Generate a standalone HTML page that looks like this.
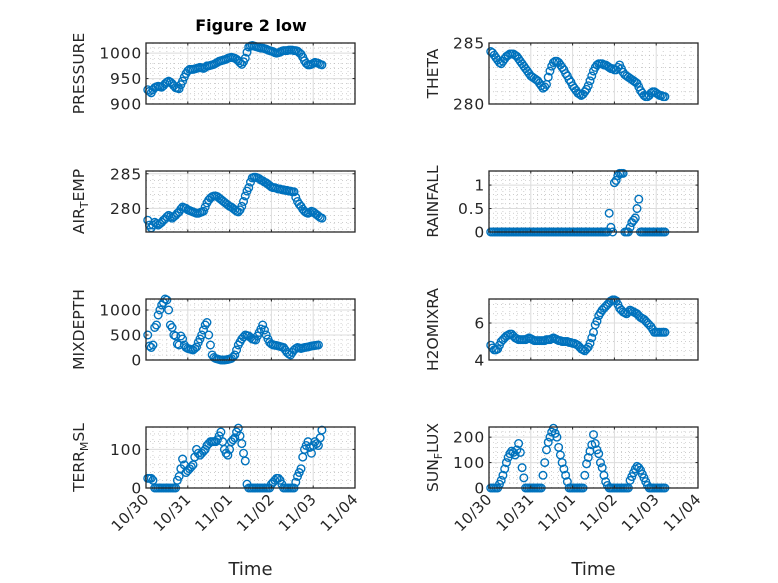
<!DOCTYPE html>
<html><head><meta charset="utf-8"><style>
html,body{margin:0;padding:0;background:#fff}
svg{display:block;font-family:"DejaVu Sans","Liberation Sans",sans-serif}
</style></head><body>
<svg id="fig" width="778" height="583" viewBox="0 0 778 583" xmlns="http://www.w3.org/2000/svg">
<rect width="778" height="583" fill="#fff"/>
<text x="251" y="31" text-anchor="middle" font-weight="bold" font-size="16" fill="#000">Figure 2 low</text>
</svg>
<script>
// hours since 10/30 00:00
const hours = [1,2,3,4,5,6,7,8,9,10,11,12,13,14,15,16,17,18,19,20,21,22,23,24,25,26,27,28,29,30,31,32,33,34,35,36,37,38,39,40,41,42,43,44,45,46,47,48,49,50,51,52,53,54,55,56,57,58,59,60,61,62,63,64,65,66,67,68,69,70,71,72,73,74,75,76,77,78,79,80,81,82,83,84,85,86,87,88,89,90,91,92,93,94,95,96,97,98,99,100,101,102];
const xTickLabels = ['10/30','10/31','11/01','11/02','11/03','11/04'];
const pressure = [928,925,922,928,932,934,935,934,933,936,940,943,945,943,940,936,932,931,930,938,945,953,960,965,968,968,968,969,970,971,972,971,970,972,975,975,976,977,978,980,982,984,985,986,987,988,990,991,992,991,990,988,985,981,978,983,990,1002,1012,1014,1015,1014,1013,1012,1011,1010,1010,1009,1008,1006,1005,1004,1003,1001,1000,1001,1002,1004,1005,1005,1005,1006,1006,1006,1005,1005,1004,1001,998,992,985,980,977,977,978,980,982,981,980,978,977];
const theta = [284.3,284.2,284.0,283.8,283.6,283.4,283.3,283.5,283.7,283.9,284.0,284.1,284.1,284.1,284.0,283.9,283.7,283.5,283.3,283.1,282.9,282.7,282.5,282.3,282.2,282.1,282.0,281.9,281.7,281.5,281.3,281.4,281.6,282.2,282.7,283.1,283.4,283.5,283.5,283.4,283.2,283.0,282.8,282.5,282.3,282.0,281.8,281.5,281.3,281.1,280.9,280.8,280.7,280.8,281.0,281.2,281.5,281.9,282.3,282.7,283.0,283.2,283.3,283.3,283.3,283.2,283.2,283.1,283.0,282.9,282.9,282.8,282.8,283.0,283.2,282.9,282.6,282.4,282.3,282.2,282.1,282.0,281.9,281.8,281.7,281.4,281.1,280.9,280.7,280.6,280.6,280.7,280.9,281.0,281.0,280.9,280.8,280.7,280.7,280.6,280.6];
const airTemp = [278.3,277.6,277.2,277.6,278.0,277.8,277.6,277.8,278.0,278.3,278.5,278.8,279.0,278.8,278.6,278.8,279.0,279.3,279.5,279.9,280.2,280.1,280.0,279.8,279.7,279.6,279.5,279.4,279.3,279.3,279.4,279.5,279.6,280.2,280.8,281.2,281.5,281.7,281.8,281.8,281.7,281.5,281.3,281.1,280.9,280.7,280.5,280.3,280.2,280.0,279.8,279.6,279.5,279.8,280.3,281.0,281.8,282.5,283.0,283.8,284.4,284.5,284.5,284.4,284.3,284.1,284.0,283.8,283.7,283.5,283.3,283.1,283.0,283.0,282.9,282.8,282.8,282.7,282.7,282.6,282.6,282.5,282.5,282.4,282.4,281.6,281.0,280.6,280.3,279.9,279.6,279.4,279.3,279.4,279.6,279.5,279.3,279.1,278.9,278.7,278.6];
const rainfall = [0,0,0,0,0,0,0,0,0,0,0,0,0,0,0,0,0,0,0,0,0,0,0,0,0,0,0,0,0,0,0,0,0,0,0,0,0,0,0,0,0,0,0,0,0,0,0,0,0,0,0,0,0,0,0,0,0,0,0,0,0,0,0,0,0,0,0,0,0.4,0.1,0,1.05,1.1,1.2,1.25,1.25,1.25,0,0,0,0.1,0.2,0.25,0.3,0.5,0.7,0,0,0,0,0,0,0,0,0,0,0,0,0,0,0];
const mixDepth = [500,280,250,300,650,700,900,1000,1100,1150,1220,1200,1000,700,650,500,480,320,300,480,420,300,250,230,220,210,200,230,260,350,420,500,600,700,750,500,300,100,50,30,20,10,0,0,0,5,10,20,30,60,100,200,300,360,420,460,500,490,480,450,420,410,400,480,550,620,700,600,500,420,350,320,300,295,290,280,270,260,250,200,150,120,100,150,200,230,250,240,230,240,250,255,260,270,280,285,290,295,300];
const h2oMix = [4.8,4.65,4.55,4.55,4.6,4.8,5.0,5.1,5.2,5.3,5.35,5.4,5.4,5.3,5.2,5.15,5.1,5.1,5.1,5.1,5.1,5.15,5.2,5.15,5.1,5.05,5.05,5.05,5.05,5.05,5.05,5.05,5.1,5.1,5.1,5.15,5.2,5.15,5.1,5.05,5.05,5.0,5.0,5.0,5.0,4.95,4.95,4.9,4.9,4.85,4.8,4.7,4.6,4.55,4.5,4.6,4.7,4.9,5.2,5.5,5.9,6.1,6.4,6.55,6.7,6.8,6.9,7.0,7.1,7.2,7.25,7.25,7.2,7.0,6.8,6.7,6.6,6.55,6.5,6.6,6.7,6.65,6.6,6.55,6.5,6.4,6.3,6.25,6.2,6.1,6.0,5.9,5.8,5.65,5.5,5.5,5.5,5.5,5.5,5.5,5.5];
const terrMsl = [25,25,25,20,0,0,0,0,0,0,0,0,0,0,0,0,0,20,30,50,75,60,40,45,50,55,60,80,100,90,85,90,95,100,110,115,120,120,120,120,125,135,145,120,100,90,85,100,120,125,130,145,155,135,115,90,70,10,0,0,0,0,0,0,0,0,0,0,0,0,0,10,15,20,25,25,20,10,0,0,0,0,0,0,0,15,30,40,50,80,100,110,120,105,90,110,120,115,110,130,150];
const sunFlux = [0,0,0,0,0,15,30,50,75,100,120,135,145,140,130,150,175,140,80,40,0,0,0,0,0,0,0,0,0,0,50,100,150,180,200,220,235,215,200,160,130,100,75,50,25,0,0,0,0,0,0,0,0,0,50,95,120,145,170,210,175,150,135,100,80,50,25,10,0,0,0,0,0,0,0,0,0,0,0,0,30,45,60,75,85,80,70,55,40,25,10,0,0,0,0,0,0,0,0,0,0];

const SVGNS='http://www.w3.org/2000/svg';
const svg=document.getElementById('fig');
function mk(tag,attrs,parent){const e=document.createElementNS(SVGNS,tag);for(const k in attrs)e.setAttribute(k,attrs[k]);(parent||svg).appendChild(e);return e;}

const panels=[
 {id:'pressure',label:[['PRESSURE']],vals:pressure,ymin:900,ymax:1020,ticks:[900,950,1000],minor:10,x:146,y:43},
 {id:'theta',label:[['THETA']],vals:theta,ymin:280,ymax:285,ticks:[280,285],minor:1,x:489,y:43},
 {id:'air-temp',label:[['AIR'],['T','sub'],['EMP']],vals:airTemp,ymin:276.6,ymax:285.4,ticks:[280,285],minor:1,x:146,y:171},
 {id:'rainfall',label:[['RAINFALL']],vals:rainfall,ymin:0,ymax:1.3,ticks:[0,0.5,1],minor:0.1,x:489,y:171},
 {id:'mixdepth',label:[['MIXDEPTH']],vals:mixDepth,ymin:0,ymax:1220,ticks:[0,500,1000],minor:100,x:146,y:299},
 {id:'h2omixra',label:[['H2OMIXRA']],vals:h2oMix,ymin:4,ymax:7.3,ticks:[4,6],minor:0.5,x:489,y:299},
 {id:'terr-msl',label:[['TERR'],['M','sub'],['SL']],vals:terrMsl,ymin:0,ymax:158,ticks:[0,100],minor:20,x:146,y:427},
 {id:'sun-flux',label:[['SUN'],['F','sub'],['LUX']],vals:sunFlux,ymin:0,ymax:240,ticks:[0,100,200],minor:20,x:489,y:427}
];
const W=209,H=61,HOURS=120;

panels.forEach((p,pi)=>{
  const g=mk('g',{});
  
  
  const xs=h=>p.x+h/HOURS*W;
  const ys=v=>p.y+H-(v-p.ymin)/(p.ymax-p.ymin)*H;
  for(let h=4;h<HOURS;h+=4){ if(h%24===0)continue;
    mk('line',{x1:xs(h),x2:xs(h),y1:p.y,y2:p.y+H,stroke:'#b0b0b0','stroke-width':0.6,'stroke-dasharray':'1 3'},g);}
  for(let v=Math.ceil(p.ymin/p.minor)*p.minor;v<p.ymax;v+=p.minor){
    if(p.ticks.some(t=>Math.abs(t-v)<1e-6))continue;
    mk('line',{x1:p.x,x2:p.x+W,y1:ys(v),y2:ys(v),stroke:'#b0b0b0','stroke-width':0.6,'stroke-dasharray':'1 3'},g);}
  for(let d=1;d<5;d++) mk('line',{x1:xs(d*24),x2:xs(d*24),y1:p.y,y2:p.y+H,stroke:'#dcdcdc','stroke-width':1},g);
  p.ticks.forEach(t=>{mk('line',{x1:p.x,x2:p.x+W,y1:ys(t),y2:ys(t),stroke:'#dcdcdc','stroke-width':1},g);});
  const s=mk('g',{},g);
  
  
  const n=Math.min(p.vals.length,hours.length);
  for(let i=0;i<n;i++){
    const c=mk('circle',{cx:xs(hours[i]),cy:ys(p.vals[i]),r:3.8,fill:'none',stroke:'#0072BD','stroke-width':1.4},s);
    
    
  }
  mk('rect',{x:p.x,y:p.y,width:W,height:H,fill:'none',stroke:'#262626','stroke-width':1.3},g);
  for(let d=0;d<=5;d++){const x=xs(d*24);
    mk('line',{x1:x,x2:x,y1:p.y+H,y2:p.y+H-2.5,stroke:'#262626'},g);
    mk('line',{x1:x,x2:x,y1:p.y,y2:p.y+2.5,stroke:'#262626'},g);}
  p.ticks.forEach(t=>{
    mk('line',{x1:p.x,x2:p.x+2.5,y1:ys(t),y2:ys(t),stroke:'#262626'},g);
    mk('line',{x1:p.x+W,x2:p.x+W-2.5,y1:ys(t),y2:ys(t),stroke:'#262626'},g);
    const tl=mk('text',{x:p.x-4,y:ys(t)+5.5,'text-anchor':'end','font-size':15.5,'letter-spacing':0.8,fill:'#262626'},g);
    tl.textContent=String(t);
    
    
  });
  const lx=p.x-(pi%2===0?62:51), ly=p.y+H/2;
  const yl=mk('text',{x:lx,y:ly,'text-anchor':'middle','font-size':15.5,fill:'#262626',transform:`rotate(-90 ${lx} ${ly})`},g);
  
  
  p.label.forEach(([txt,kind])=>{
    const ts=mk('tspan',kind==='sub'?{'baseline-shift':'-35%','font-size':11}:{},yl);
    ts.textContent=txt;
  });
  if(pi>=6){
    xTickLabels.forEach((lab,d)=>{
      const x=xs(d*24)+4,y=p.y+H+12;
      const t=mk('text',{x:x,y:y,'text-anchor':'end','font-size':15,'letter-spacing':0.5,fill:'#262626',transform:`rotate(-45 ${x} ${y})`},g);
      t.textContent=lab;
      
      
    });
    const xt=mk('text',{x:p.x+W/2,y:575,'text-anchor':'middle','font-size':18,fill:'#262626'},g);
    xt.textContent='Time';
    
    
  }
});
</script>
</body></html>
